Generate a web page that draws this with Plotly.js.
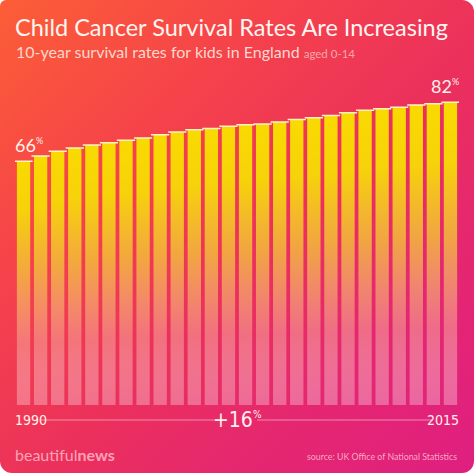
<!DOCTYPE html>
<html>
<head>
<meta charset="utf-8">
<script src="https://cdn.plot.ly/plotly-3.0.1.min.js"></script>
<style>
  html, body { margin: 0; padding: 0; background: #ffffff; }
  #card {
    width: 474px; height: 473px; overflow: hidden;
    border-radius: 6px 12px 12px 12px;
    background: linear-gradient(135deg, #fc5e36 0%, #f5424b 30%, #eb305c 55%, #e52770 75%, #df1f80 100%);
  }
  #chart { width: 474px; height: 474px; }
</style>
</head>
<body>
<div id="card"><div id="chart"></div></div>
<script>
const years = [1990,1991,1992,1993,1994,1995,1996,1997,1998,1999,2000,2001,2002,
               2003,2004,2005,2006,2007,2008,2009,2010,2011,2012,2013,2014,2015];
const survival = [66.0,67.4,68.7,69.6,70.4,71.0,71.7,72.3,73.2,73.9,74.5,74.9,75.5,
                  75.9,76.1,76.6,77.3,77.8,78.4,79.1,79.8,80.2,80.6,81.2,81.6,82.0];
const titleText = "Child Cancer Survival Rates Are Increasing";
const subtitleText = "10-year survival rates for kids in England";
const subtitleNote = "aged 0-14";
const changeLabel = "+16";
const sourceText = "source: UK Office of National Statistics";

const first = survival[0], last = survival[survival.length - 1];
const pct = "<sup><span style='font-size:9px'>%</span></sup>";

const bars = {
  type: "bar", x: years, y: survival,
  marker: { color: "#f8d800", line: { width: 0 } },
  hoverinfo: "skip"
};
const caps = {
  type: "scatter", mode: "markers", x: years, y: survival,
  marker: { symbol: "line-ew", size: 13, line: { width: 1.5, color: "#fff3c4" } },
  hoverinfo: "skip"
};

const narrow = "'Liberation Sans Narrow', 'DejaVu Sans Condensed', sans-serif";

const layout = {
  width: 474, height: 474,
  margin: { l: 15, r: 15, t: 80, b: 69 },
  paper_bgcolor: "rgba(0,0,0,0)", plot_bgcolor: "rgba(0,0,0,0)",
  showlegend: false, bargap: 0.22,
  font: { family: "Lato, 'Open Sans', sans-serif", color: "#fff0ea" },
  title: {
    text: titleText, x: 15/474, xanchor: "left", xref: "container",
    y: 1 - 28/474, yanchor: "middle", yref: "container",
    font: { family: "Lato, sans-serif", size: 23.5, color: "#fff5f0" }
  },
  xaxis: { range: [years[0] - 0.5, years[years.length-1] + 0.5], visible: false, fixedrange: true },
  yaxis: { range: [0, 88], visible: false, fixedrange: true },
  annotations: [
    { xref: "paper", yref: "paper", x: 0, y: (405-52)/325, xanchor: "left", yanchor: "middle",
      showarrow: false, xshift: -1,
      text: subtitleText + " <span style='font-size:11.5px;color:rgba(255,215,210,0.75)'>" + subtitleNote + "</span>",
      font: { size: 16, color: "rgba(255,225,215,0.95)", family: "Lato, sans-serif" } },
    { xref: "paper", yref: "y", x: 0, y: first, xanchor: "left", yanchor: "bottom", yshift: 3, xshift: -2,
      showarrow: false, text: Math.round(first) + pct,
      font: { size: 18, color: "#fff0ea", family: "Lato, sans-serif" } },
    { xref: "paper", yref: "y", x: 1, y: last, xanchor: "right", yanchor: "bottom", yshift: 3, xshift: 2,
      showarrow: false, text: Math.round(last) + pct,
      font: { size: 18, color: "#fff0ea", family: "Lato, sans-serif" } },
    { xref: "paper", yref: "paper", x: 0, y: -15/325, xanchor: "left", yanchor: "middle", xshift: -2,
      showarrow: false, text: String(years[0]),
      font: { size: 14, color: "#fff0ea", family: narrow } },
    { xref: "paper", yref: "paper", x: 1, y: -15/325, xanchor: "right", yanchor: "middle", xshift: 2,
      showarrow: false, text: String(years[years.length-1]),
      font: { size: 14, color: "#fff0ea", family: narrow } },
    { xref: "paper", yref: "paper", x: (237-15)/444, y: -15/325, xanchor: "center", yanchor: "middle",
      showarrow: false, text: changeLabel + "<sup><span style='font-size:10px'>%</span></sup>",
      font: { size: 21, color: "#fff0ea", family: narrow } },
    { xref: "paper", yref: "paper", x: 0, y: -49/325, xanchor: "left", yanchor: "middle", xshift: -2,
      showarrow: false,
      text: "beautiful<b>news</b>",
      font: { size: 16, color: "rgba(255,195,205,0.8)", family: "Lato, sans-serif" } },
    { xref: "paper", yref: "paper", x: 1, y: -51/325, xanchor: "right", yanchor: "middle",
      showarrow: false, text: sourceText,
      font: { size: 8.8, color: "rgba(255,195,210,0.85)", family: "Lato, sans-serif" } }
  ],
  shapes: [
    { type: "line", xref: "paper", yref: "paper", x0: (40-15)/444, x1: (218-15)/444, y0: -15/325, y1: -15/325,
      line: { color: "rgba(255,255,255,0.45)", width: 1 } },
    { type: "line", xref: "paper", yref: "paper", x0: (257-15)/444, x1: (433-15)/444, y0: -15/325, y1: -15/325,
      line: { color: "rgba(255,255,255,0.45)", width: 1 } }
  ]
};

Plotly.newPlot("chart", [bars, caps], layout, { displayModeBar: false, staticPlot: true }).then(function (gd) {
  const NS = "http://www.w3.org/2000/svg";
  const svg = gd.querySelector("svg.main-svg");
  let defs = svg.querySelector("defs");
  if (!defs) { defs = document.createElementNS(NS, "defs"); svg.insertBefore(defs, svg.firstChild); }
  const grad = document.createElementNS(NS, "linearGradient");
  grad.setAttribute("id", "barGrad");
  grad.setAttribute("x1", "0"); grad.setAttribute("y1", "0");
  grad.setAttribute("x2", "0"); grad.setAttribute("y2", "1");
  const stops = [
    [0, "#f9da00", 1],
    [0.2, "#f6d20a", 1],
    [0.45, "#f3c23a", 0.8],
    [0.75, "#f8b0a0", 0.5],
    [1, "#ffffff", 0.3]
  ];
  stops.forEach(function (s) {
    const st = document.createElementNS(NS, "stop");
    st.setAttribute("offset", s[0]);
    st.setAttribute("stop-color", s[1]);
    st.setAttribute("stop-opacity", s[2]);
    grad.appendChild(st);
  });
  defs.appendChild(grad);
  gd.querySelectorAll(".bars .point path").forEach(function (p) {
    p.style.fill = "url(#barGrad)";
    p.style.fillOpacity = 1;
  });
});
</script>
</body>
</html>
